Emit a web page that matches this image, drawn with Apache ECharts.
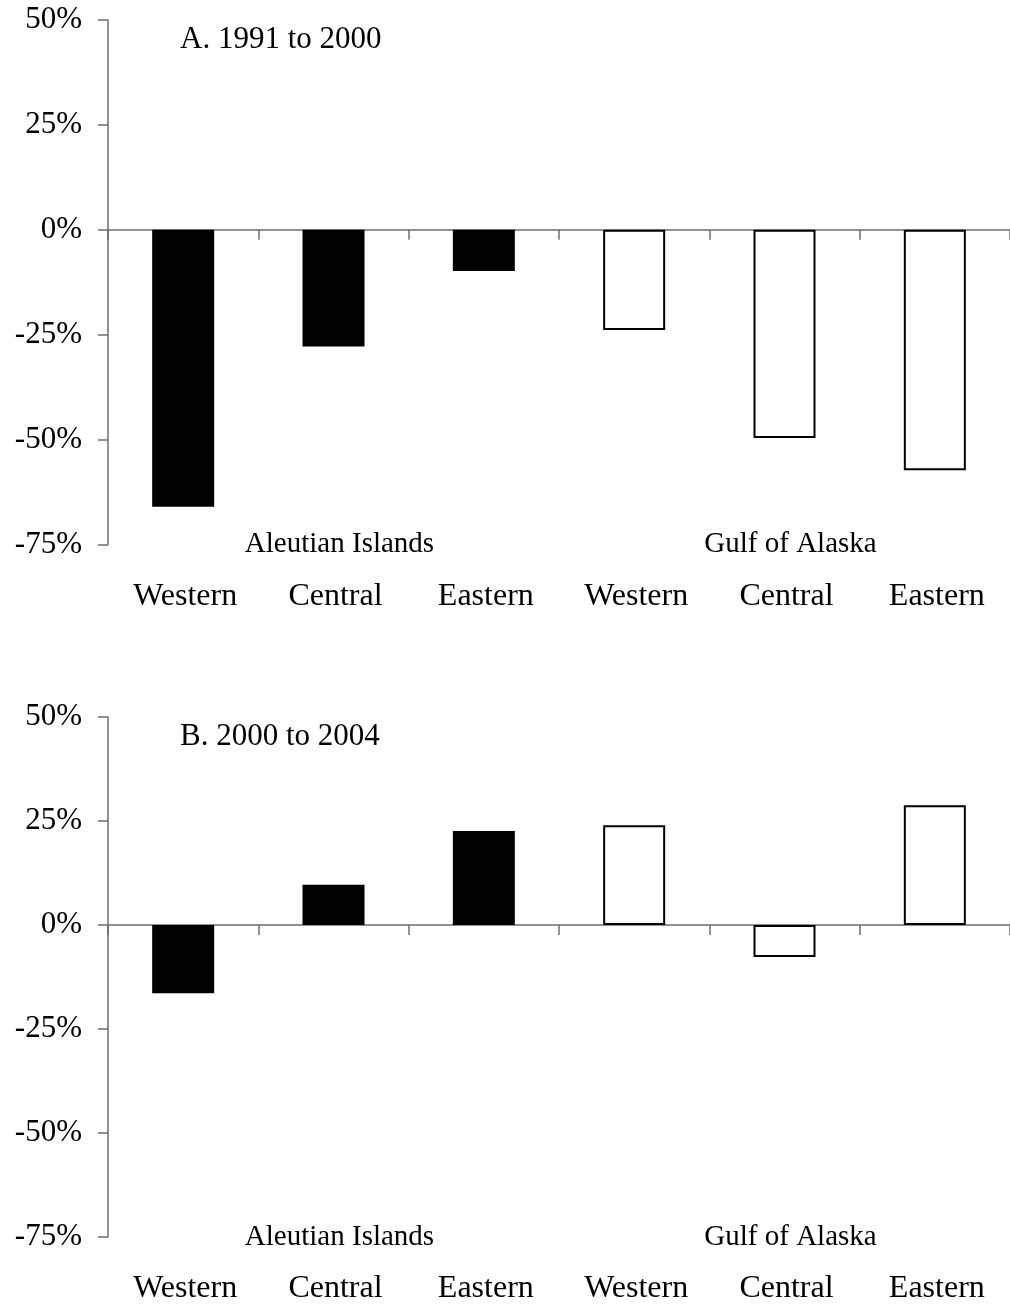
<!DOCTYPE html>
<html>
<head>
<meta charset="utf-8">
<script src="https://cdn.jsdelivr.net/npm/echarts@6/dist/echarts.min.js"></script>
<style>
  html, body { margin: 0; padding: 0; background: #fff; }
  #chart { width: 1010px; height: 1305px; }
</style>
</head>
<body>
<div id="chart"></div>
<script>
// Sub-regions along the x axis and the two region groups beneath them
const subRegions = ['Western', 'Central', 'Eastern', 'Western', 'Central', 'Eastern'];
const regionGroups = ['Aleutian Islands', 'Gulf of Alaska'];

// Percent change, panel A (1991 to 2000)
const aleutianA = [-66.0, -27.8, -9.8];
const gulfA = [-23.9, -49.6, -57.3];

// Percent change, panel B (2000 to 2004)
const aleutianB = [-16.4, 9.7, 22.6];
const gulfB = [24.0, -7.7, 28.8];

const panelTitles = ['A. 1991 to 2000', 'B. 2000 to 2004'];
const yTicks = { min: -75, max: 50, step: 25 };

const FONT = "'Liberation Serif', 'Times New Roman', serif";
const AXIS_GRAY = '#6e6e6e';

const panels = [
  { top: 20, aleutian: aleutianA, gulf: gulfA },
  { top: 717, aleutian: aleutianB, gulf: gulfB }
];

const grids = [], xAxes = [], yAxes = [], series = [], titles = [];

panels.forEach((p, i) => {
  grids.push({ left: 108, top: p.top, width: 904, height: 524.5 });

  // Baseline axis at 0% with ticks between categories
  xAxes.push({
    type: 'category', gridIndex: i, data: subRegions,
    axisLine: { onZero: true, lineStyle: { color: AXIS_GRAY, width: 1.5 } },
    axisTick: { show: true, length: 10, inside: false, lineStyle: { color: AXIS_GRAY, width: 1.5 } },
    axisLabel: { show: false }, splitLine: { show: false }
  });
  // Sub-region names along the bottom
  xAxes.push({
    type: 'category', gridIndex: i, data: subRegions, position: 'bottom',
    axisLine: { show: false, onZero: false }, axisTick: { show: false },
    axisLabel: { margin: 52, verticalAlign: 'middle', fontFamily: FONT, fontSize: 32, color: '#000', padding: [0, 0, 0, 4] }
  });
  // Region group names along the bottom
  xAxes.push({
    type: 'category', gridIndex: i, data: regionGroups, position: 'bottom',
    axisLine: { show: false, onZero: false }, axisTick: { show: false },
    axisLabel: { margin: 0, verticalAlign: 'middle', fontFamily: FONT, fontSize: 29, color: '#000', padding: [0, 0, 0, 12] }
  });

  yAxes.push({
    type: 'value', gridIndex: i, min: yTicks.min, max: yTicks.max, interval: yTicks.step,
    axisLine: { show: true, lineStyle: { color: AXIS_GRAY, width: 1.5 } },
    axisTick: { show: true, length: 10, lineStyle: { color: AXIS_GRAY, width: 1.5 } },
    axisLabel: { formatter: '{value}%', margin: 26, fontFamily: FONT, fontSize: 31, color: '#000' },
    splitLine: { show: false }
  });

  const pad = ['-', '-', '-'];
  series.push({
    type: 'bar', xAxisIndex: i * 3, yAxisIndex: i,
    data: p.aleutian.concat(pad),
    barWidth: 62, barGap: '-100%',
    itemStyle: { color: '#000', borderColor: '#000', borderWidth: 0 },
    emphasis: { disabled: true }
  });
  series.push({
    type: 'bar', xAxisIndex: i * 3, yAxisIndex: i,
    data: pad.concat(p.gulf),
    barWidth: 62, barGap: '-100%',
    itemStyle: { color: '#fff', borderColor: '#000', borderWidth: 2 },
    emphasis: { disabled: true }
  });

  titles.push({
    text: panelTitles[i], left: 175, top: p.top - 1,
    textStyle: { fontFamily: FONT, fontSize: 31, fontWeight: 'normal', color: '#000' }
  });
});

const chart = echarts.init(document.getElementById('chart'), null, { renderer: 'canvas' });
chart.setOption({
  animation: false,
  backgroundColor: '#fff',
  title: titles,
  grid: grids,
  xAxis: xAxes,
  yAxis: yAxes,
  series: series
});
</script>
</body>
</html>
